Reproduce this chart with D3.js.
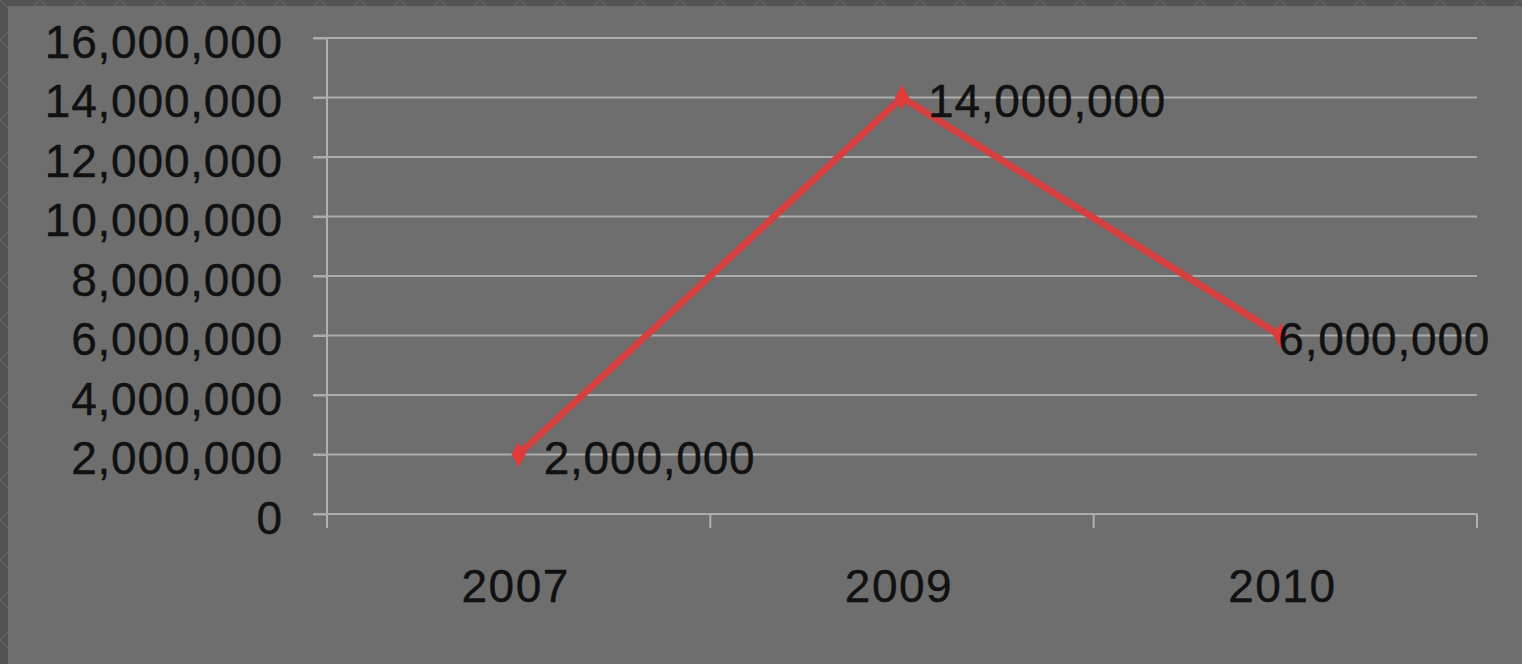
<!DOCTYPE html>
<html>
<head>
<meta charset="utf-8">
<script src="https://cdn.jsdelivr.net/npm/d3@7"></script>
<style>
  html, body { margin: 0; padding: 0; background: #555555; }
  svg { display: block; }
  text { font-family: "Liberation Sans", Arial, sans-serif; fill: #111111; letter-spacing: 0.8px; stroke: #111111; stroke-width: 0.4px; }
</style>
</head>
<body>
<svg id="chart" width="1522" height="664"></svg>
<script>
const categories = ["2007", "2009", "2010"];
const values = [2000000, 14000000, 6000000];
const yTicks = [0, 2000000, 4000000, 6000000, 8000000, 10000000, 12000000, 14000000, 16000000];
const labelDx = [25, 26, -2];

(function () {
const W = 1522, H = 664;
const svg = d3.select("#chart");

// frame pattern
const defs = svg.append("defs");
const pat = defs.append("pattern").attr("id", "frame").attr("width", 40).attr("height", 40)
  .attr("patternUnits", "userSpaceOnUse");
pat.append("rect").attr("width", 40).attr("height", 40).attr("fill", "#535353");
pat.append("path").attr("d", "M0,0 L40,40 M40,0 L0,40").attr("stroke", "#616161").attr("stroke-width", 1.5);
svg.append("rect").attr("width", W).attr("height", H).attr("fill", "url(#frame)");
svg.append("rect").attr("x", 8).attr("y", 6).attr("width", W - 8).attr("height", H - 6).attr("fill", "#6e6e6e");

const mLeft = 327, mRight = 1477, mTop = 38, mBottom = 514;
const x = d3.scaleBand().domain(categories).range([mLeft, mRight]).padding(0);
const y = d3.scaleLinear().domain([0, 16000000]).range([mBottom, mTop]);
const fmt = d3.format(",");

// gridlines
svg.append("g").selectAll("line").data(yTicks).join("line")
  .attr("x1", mLeft - 14).attr("x2", mRight)
  .attr("y1", d => y(d)).attr("y2", d => y(d))
  .attr("stroke", "#acacac").attr("stroke-width", 2);

// y axis
const yAxis = svg.append("g").attr("transform", `translate(${mLeft},0)`)
  .call(d3.axisLeft(y).tickValues(yTicks).tickFormat(fmt).tickSize(14).tickPadding(30));
yAxis.select(".domain").attr("stroke", "#b0b0b0").attr("stroke-width", 2)
  .attr("d", `M0,${mTop}V${mBottom + 14}`);
yAxis.selectAll(".tick line").attr("stroke", "#acacac").attr("stroke-width", 2);
yAxis.selectAll(".tick text").attr("font-size", 46).attr("fill", "#111").attr("dy", "0.42em")
  .style("font-family", "'Liberation Sans', Arial, sans-serif");

// x axis category boundary ticks
const bounds = categories.map(c => x(c)).concat([x(categories[categories.length - 1]) + x.bandwidth()]);
svg.append("g").selectAll("line").data(bounds.slice(1)).join("line")
  .attr("x1", d => d).attr("x2", d => d).attr("y1", mBottom).attr("y2", mBottom + 14)
  .attr("stroke", "#b0b0b0").attr("stroke-width", 2);
svg.append("g").selectAll("text").data(categories).join("text")
  .attr("x", d => x(d) + x.bandwidth() / 2 - 3).attr("y", 602)
  .attr("text-anchor", "middle").attr("font-size", 46).style("letter-spacing", "1.5px").text(d => d);

// line
const px = (d, i) => x(categories[i]) + x.bandwidth() / 2 - (i === categories.length - 1 ? 5 : 0);
const line = d3.line().x(px).y(d => y(d));
svg.append("path").datum(values).attr("d", line)
  .attr("fill", "none").attr("stroke", "#d43f3f").attr("stroke-width", 7).attr("stroke-linejoin", "round");
svg.append("g").selectAll("path").data(values).join("path")
  .attr("transform", (d, i) => `translate(${px(d, i)},${y(d)})`)
  .attr("d", d3.symbol().type(d3.symbolDiamond).size(180))
  .attr("fill", "#e03a3a");

// data labels
svg.append("g").selectAll("text").data(values).join("text")
  .attr("x", (d, i) => px(d, i) + labelDx[i]).attr("y", d => y(d))
  .attr("dy", "0.42em").attr("font-size", 46).text(d => fmt(d));
})();
</script>
</body>
</html>
